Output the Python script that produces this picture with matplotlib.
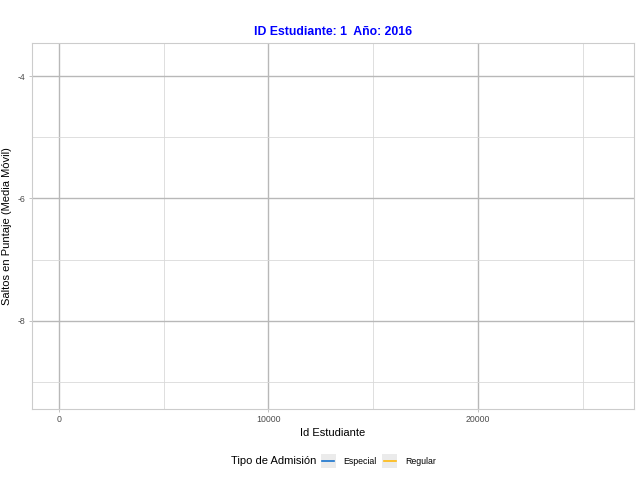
import matplotlib
matplotlib.use("Agg")
import matplotlib.pyplot as plt
from matplotlib.patches import Rectangle
from matplotlib.lines import Line2D
from matplotlib.legend_handler import HandlerBase

plt.rcParams['font.family'] = ['Liberation Sans', 'DejaVu Sans']

# datos (el cuadro no tiene puntos visibles en este instante)
especial_id = []
especial_salto = []
regular_id = []
regular_salto = []

tipos = ['Especial', 'Regular']
colores = ['#1874CD', '#FFB90F']

x_major = [0, 10000, 20000]
x_minor = [5000, 15000, 25000]
y_major = [-4, -6, -8]
y_minor = [-5, -7, -9]


class ClaveConFondo(HandlerBase):
    # cuadro gris con la linea encima, como en ggplot
    def create_artists(self, legend, orig_handle, xdescent, ydescent,
                       width, height, fontsize, trans):
        fondo = Rectangle((-xdescent, -ydescent), width, height,
                          facecolor='#ebebeb', edgecolor='none',
                          transform=trans)
        y = -ydescent + height / 2
        linea = Line2D([-xdescent + 1, -xdescent + width - 1], [y, y],
                       color=orig_handle.get_color(), linewidth=1.2,
                       transform=trans)
        return [fondo, linea]


fig = plt.figure(figsize=(6.4, 4.8), dpi=100)
ax = fig.add_axes([32 / 640, 1 - 409 / 480, 602 / 640, 366 / 480])

l1, = ax.plot(especial_id, especial_salto, color=colores[0])
l2, = ax.plot(regular_id, regular_salto, color=colores[1])

ax.set_xlim(-1290, 27450)
ax.set_ylim(-9.44, -3.46)

ax.set_xticks(x_major)
ax.set_xticks(x_minor, minor=True)
ax.set_yticks(y_major)
ax.set_yticks(y_minor, minor=True)
ax.set_xticklabels([str(v) for v in x_major])
ax.set_yticklabels([str(v) for v in y_major])

ax.grid(which='major', color='#b8b8b8', linewidth=1.0)
ax.grid(which='minor', color='#d9d9d9', linewidth=0.6)
ax.set_axisbelow(True)
for s in ax.spines.values():
    s.set_color('#cccccc')
    s.set_linewidth(0.8)

ax.tick_params(which='major', length=2.5, width=0.6, color='#b8b8b8',
               labelsize=6.3, labelcolor='#4d4d4d', pad=2)
ax.tick_params(which='minor', length=0)

ax.set_xlabel('Id Estudiante', fontsize=8, labelpad=3)
ax.set_ylabel('Saltos en Puntaje (Media Móvil)', fontsize=8, labelpad=4)
ax.set_title('ID Estudiante: 1  Año: 2016', color='#0000ff',
             fontsize=8.8, fontweight='bold', pad=6)

# leyenda abajo
fig.text(231 / 640, 1 - 461 / 480, 'Tipo de Admisión', fontsize=8,
         va='center', ha='left')
fig.legend([l1, l2], tipos, loc='center left',
           bbox_to_anchor=(321 / 640, 1 - 461 / 480),
           ncol=2, frameon=False, fontsize=6.3,
           handler_map={Line2D: ClaveConFondo()},
           handlelength=1.7, handleheight=2.2, handletextpad=0.9,
           columnspacing=0.6, borderpad=0, borderaxespad=0)

fig.savefig('out.png', dpi=100)
